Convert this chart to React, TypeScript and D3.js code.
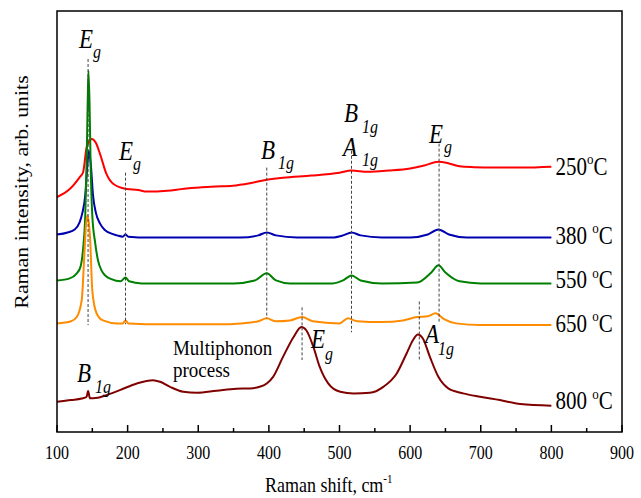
import { useEffect, useRef } from 'react';
import * as d3 from 'd3';

// Raman spectra, [shift cm-1, intensity arb. units]
const spectrum250 = [
  [100, 55.8], [118, 57.7], [132, 60.5], [137, 61.7], [142, 67.6], [149, 69.6], [155, 68.7],
  [161, 66.0], [170, 61.3], [180, 58.9], [199, 57.7], [215, 57.5], [227, 57.1], [256, 57.3],
  [280, 57.8], [302, 58.1], [325, 58.3], [349, 58.5], [373, 59.1], [397, 59.9], [420, 60.4],
  [460, 60.9], [500, 61.6], [517, 62.1], [540, 61.8], [570, 62.1], [600, 62.6], [620, 63.3],
  [640, 64.2], [655, 63.8], [670, 63.1], [690, 62.9], [720, 62.8], [760, 62.8], [800, 63.0],
];

const spectrum380 = [
  [100, 46.9], [115, 47.4], [125, 48.1], [132, 49.8], [136, 52.1], [140, 56.2], [143, 63.3],
  [145, 66.8], [148, 63.3], [151, 56.2], [155, 52.1], [161, 49.5], [167, 48.1], [173, 47.4],
  [185, 46.7], [193, 46.4], [197, 46.9], [201, 46.4], [230, 46.2], [360, 46.2], [385, 46.7],
  [397, 47.4], [410, 46.7], [440, 46.2], [490, 46.2], [505, 46.7], [517, 47.4], [530, 46.7],
  [560, 46.2], [600, 46.2], [625, 46.9], [640, 48.1], [655, 46.9], [680, 46.2], [800, 46.2],
];

const spectrum550 = [
  [100, 36.0], [118, 36.5], [128, 37.7], [133, 39.1], [137, 43.6], [140, 51.4], [142, 64.5],
  [143.5, 78.7], [144.5, 85.8], [146, 78.7], [147.5, 64.5], [150, 51.4], [154, 45.0],
  [158, 40.8], [163, 38.4], [168, 37.2], [177, 36.3], [190, 35.8], [197, 36.7], [202, 35.8],
  [220, 35.3], [350, 35.3], [380, 36.0], [397, 37.7], [410, 36.0], [430, 35.3], [490, 35.3],
  [505, 36.0], [517, 37.2], [530, 36.0], [560, 35.3], [610, 35.5], [630, 37.9], [640, 39.6],
  [650, 37.9], [670, 35.8], [700, 35.3], [800, 35.3],
];

const spectrum650 = [
  [100, 25.8], [120, 26.3], [128, 27.3], [135, 31.3], [139, 43.1], [141, 49.1], [143, 51.4],
  [145, 49.8], [147, 45.5], [150, 33.6], [156, 28.2], [165, 26.5], [185, 25.8], [193, 25.8],
  [197, 26.5], [201, 25.8], [250, 25.6], [330, 25.6], [360, 25.8], [385, 26.3], [397, 27.0],
  [410, 26.3], [430, 26.5], [447, 27.3], [462, 26.3], [500, 25.8], [512, 27.0], [525, 26.3],
  [560, 26.1], [590, 26.5], [610, 27.3], [625, 27.5], [636, 28.2], [648, 26.8], [665, 25.8],
  [700, 25.4], [800, 25.4],
];

const spectrum800 = [
  [100, 7.18], [120, 7.58], [135, 7.94], [142, 8.36], [144, 9.72], [146.7, 7.99], [155, 8.06],
  [170, 8.77], [189, 9.95], [213, 11.54], [236, 12.32], [246, 11.92], [260, 10.73],
  [279, 9.55], [298, 9.31], [326, 9.79], [354, 10.26], [373, 10.36], [387, 10.73],
  [397, 11.54], [406, 13.1], [420, 17.84], [435, 22.58], [446, 24.95], [453, 24.17],
  [463, 20.21], [472, 15.47], [484, 11.54], [501, 9.55], [520, 9.17], [543, 9.31],
  [562, 10.73], [581, 13.91], [595, 18.65], [604, 21.8], [611, 23.15], [618, 22.2],
  [628, 17.84], [640, 13.1], [654, 10.36], [675, 9.17], [699, 8.36], [727, 7.58],
  [756, 6.64], [800, 6.24],
];

const temperatures = ['250', '380', '550', '650', '800'];

// dashed mode markers: [shift, from, to]
const modeLines = [
  [144, 88.6, 25.4], [197, 61.6, 25.6], [397, 62.8, 27.0], [517, 66.8, 23.7],
  [641, 68.5, 25.8], [447, 29.6, 17.1], [613, 31.0, 17.1],
];

const shiftTicks = [100, 200, 300, 400, 500, 600, 700, 800, 900];
const minorTicks = [150, 250, 350, 450, 550, 650, 750, 850];

const FONT = '"Liberation Serif", "Times New Roman", serif';
const STRETCH = 1.15; // the figure's lettering is a bit taller than wide

function RamanChart() {
  const svgRef = useRef(null);

  useEffect(() => {
    const width = 641;
    const height = 498;
    const left = 57, right = 622, top = 11, bottom = 432;

    d3.select(svgRef.current).selectAll('*').remove();

    const svg = d3
      .select(svgRef.current)
      .attr('width', width)
      .attr('height', height)
      .style('font-family', FONT);

    const x = d3.scaleLinear().domain([100, 900]).range([left, right]);
    const y = d3.scaleLinear().domain([0, 100]).range([bottom, top]);

    const at = (px, py) => `translate(${px},${py}) scale(1,${STRETCH})`;

    const colors = ['#ff0000', '#0000b0', '#008000', '#ff8c00', '#800000'];
    const spectra = [spectrum250, spectrum380, spectrum550, spectrum650, spectrum800];

    const line = d3
      .line()
      .x((d) => x(d[0]))
      .y((d) => y(d[1]))
      .curve(d3.curveMonotoneX);

    spectra.forEach((s, i) => {
      svg
        .append('path')
        .datum(s)
        .attr('d', line)
        .attr('fill', 'none')
        .attr('stroke', colors[i])
        .attr('stroke-width', 2);
    });

    // mode markers
    svg
      .selectAll('.mode')
      .data(modeLines)
      .enter()
      .append('line')
      .attr('x1', (d) => x(d[0]))
      .attr('x2', (d) => x(d[0]))
      .attr('y1', (d) => y(d[1]))
      .attr('y2', (d) => y(d[2]))
      .attr('stroke', '#444')
      .attr('stroke-width', 1)
      .attr('stroke-dasharray', '3,2');

    // frame
    svg
      .append('rect')
      .attr('x', left)
      .attr('y', top)
      .attr('width', right - left)
      .attr('height', bottom - top)
      .attr('fill', 'none')
      .attr('stroke', '#000')
      .attr('stroke-width', 1.5);

    // bottom ticks (inside)
    svg
      .selectAll('.major')
      .data(shiftTicks)
      .enter()
      .append('line')
      .attr('x1', (d) => x(d))
      .attr('x2', (d) => x(d))
      .attr('y1', bottom)
      .attr('y2', bottom - 7)
      .attr('stroke', '#000')
      .attr('stroke-width', 1.5);

    svg
      .selectAll('.minor')
      .data(minorTicks)
      .enter()
      .append('line')
      .attr('x1', (d) => x(d))
      .attr('x2', (d) => x(d))
      .attr('y1', bottom)
      .attr('y2', bottom - 4)
      .attr('stroke', '#000')
      .attr('stroke-width', 1.5);

    svg
      .selectAll('.ticklabel')
      .data(shiftTicks)
      .enter()
      .append('text')
      .attr('transform', (d) => at(x(d), bottom + 27))
      .attr('text-anchor', 'middle')
      .attr('font-size', 16)
      .text((d) => d);

    // axis titles
    const xt = svg
      .append('text')
      .attr('transform', at(265, 492))
      .attr('font-size', 18)
      .text('Raman shift, cm');
    xt.append('tspan').attr('dy', -8).attr('font-size', 11).text('-1');

    svg
      .append('text')
      .attr('transform', `translate(28,192) scale(1,${STRETCH}) rotate(-90)`)
      .attr('text-anchor', 'middle')
      .attr('font-size', 19)
      .text('Raman intensity, arb. units');

    // temperature labels
    const tempY = [61.1, 44.7, 34.1, 23.8, 5.4];
    temperatures.forEach((t, i) => {
      const txt = svg
        .append('text')
        .attr('transform', at(x(806), y(tempY[i])))
        .attr('font-size', 21)
        .text(i === 0 ? t : t + ' ');
      txt.append('tspan').attr('dy', -9).attr('font-size', 13).text('o');
      txt.append('tspan').attr('dy', 9).attr('font-size', 21).text('C');
    });

    // mode labels
    const addMode = (cm, v, main, sub, dx, dy) => {
      const t = svg
        .append('text')
        .attr('transform', at(x(cm), y(v)))
        .attr('font-size', 23)
        .attr('font-style', 'italic')
        .text(main);
      t.append('tspan').attr('dx', dx).attr('dy', dy / STRETCH).attr('font-size', 16).text(sub);
    };

    addMode(131, 91.2, 'E', 'g', 0, 10);
    addMode(187.8, 64.5, 'E', 'g', 0, 10);
    addMode(388.8, 64.9, 'B', '1g', 3, 10);
    addMode(506.4, 73.7, 'B', '1g', 4, 11);
    addMode(505, 65.6, 'A', '1g', 5, 10);
    addMode(626.7, 68.7, 'E', 'g', 1, 10);
    addMode(128.3, 11.8, 'B', '1g', 4, 11);
    addMode(459.6, 19.9, 'E', 'g', 0, 12);
    addMode(621, 21.1, 'A', '1g', -1, 12);

    svg
      .append('text')
      .attr('transform', at(x(264.2), y(18.2)))
      .attr('font-size', 19)
      .text('Multiphonon');
    svg
      .append('text')
      .attr('transform', at(x(264.2), y(13.0)))
      .attr('font-size', 19)
      .text('process');
  }, []);

  return <svg ref={svgRef} style={{ position: 'absolute', left: 0, top: 0, background: '#fff' }}></svg>;
}

export default function App() {
  return <RamanChart />;
}
